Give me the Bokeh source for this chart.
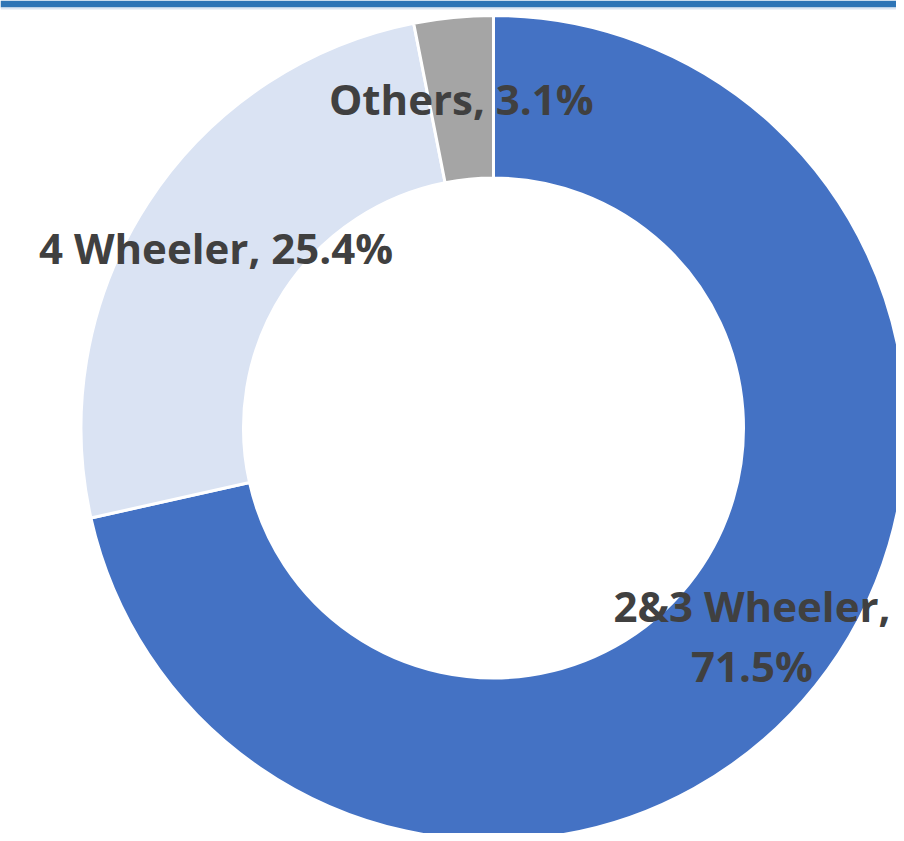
import numpy as np
from bokeh.plotting import figure
from bokeh.models import Range1d, ColumnDataSource, BoxAnnotation
from bokeh.core.properties import value
from bokeh.embed import file_html
from bokeh.resources import INLINE

# ---- data ----
categories = ["2&3 Wheeler", "4 Wheeler", "Others"]
shares = [71.5, 25.4, 3.1]
colors = ["#4472C4", "#DAE3F3", "#A5A5A5"]
label_texts = ["2&3 Wheeler,\n71.5%", "4 Wheeler, 25.4%", "Others, 3.1%"]

# ---- geometry ----
W, H = 896, 833
cx_px, cy_px = 493, 427.5
R_OUT, R_IN = 412.5, 250

frac = np.array(shares) / np.sum(shares)
cum_end = np.cumsum(frac)
cum_start = cum_end - frac
# clockwise from 12 o'clock
start_angle = np.pi / 2 - 2 * np.pi * cum_end
end_angle = np.pi / 2 - 2 * np.pi * cum_start
mid = (start_angle + end_angle) / 2
r_lab = (R_IN + R_OUT) / 2

src = ColumnDataSource(dict(
    cat=categories, start=start_angle, end=end_angle, color=colors,
    lx=r_lab * np.cos(mid), ly=r_lab * np.sin(mid), txt=label_texts,
))

p = figure(width=W, height=H,
           x_range=Range1d(-cx_px, W - cx_px),
           y_range=Range1d(-(H - cy_px), cy_px),
           output_backend="svg", toolbar_location=None, min_border=0)
p.axis.visible = False
p.grid.visible = False
p.outline_line_color = None
p.background_fill_color = "white"
p.border_fill_color = "white"

# top accent bar
p.add_layout(BoxAnnotation(top=cy_px, bottom=cy_px - 7, fill_color="#2E75B6",
                           fill_alpha=1.0, line_color=None))
p.add_layout(BoxAnnotation(top=cy_px - 7, bottom=cy_px - 9, fill_color="#DCE6F2",
                           fill_alpha=1.0, line_color=None))

p.annular_wedge(x=0, y=0, inner_radius=R_IN, outer_radius=R_OUT,
                start_angle="start", end_angle="end", fill_color="color",
                line_color="white", line_width=3, source=src)

p.text(x="lx", y="ly", text="txt", source=src,
       text_align="center", text_baseline="middle",
       text_font=value("Open Sans"), text_font_style="bold",
       text_font_size="42px", text_color="#404040", text_line_height=1.05)

open("out.html", "w").write(file_html(p, INLINE))
